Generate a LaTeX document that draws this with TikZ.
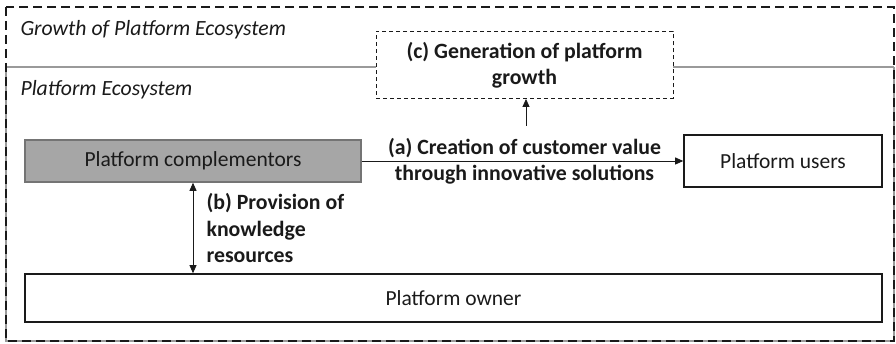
\documentclass[tikz,border=0pt]{standalone}
\usepackage{fontspec}
\setmainfont{Carlito}
\usetikzlibrary{arrows.meta}
\definecolor{ink}{HTML}{1A1A1A}
\definecolor{frame}{HTML}{9A9A9A}
\definecolor{fillgray}{HTML}{A6A6A6}
\begin{document}
\begin{tikzpicture}[x=1pt,y=-1pt,
  txt/.style={font=\fontsize{21.5}{25.5}\selectfont, text=ink},
  blabel/.style={font=\bfseries\fontsize{21.8}{26}\selectfont, text=ink, align=center},
  actor/.style={draw=ink, line width=1.6pt, inner sep=0pt, txt},
  flow/.style={draw=ink, line width=0.8pt, -{Triangle[length=8pt,width=7pt]}},
  heading/.style={font=\itshape\fontsize{21.7}{25}\selectfont, text=ink, anchor=west}
]
\useasboundingbox (0,0) rectangle (896,344);

% inner ecosystem frame (solid grey)
\coordinate (eNW) at (6,67);
\coordinate (eNE) at (894,67);
\coordinate (eSW) at (6,341);
\coordinate (eSE) at (894,341);

% growth box
\node[draw=ink, dashed, dash pattern=on 4pt off 3pt, line width=0.9pt,
      minimum width=297pt, minimum height=67pt, inner sep=0pt, blabel]
      (growth) at (524.5,65) {(c) Generation of platform\\growth};

\draw[frame, line width=1.4pt] (eNW) -- (growth.west |- eNW);
\draw[frame, line width=1.4pt] (growth.east |- eNE) -- (eNE);
\draw[frame, line width=1.2pt] (eNW) -- (eSW) -- (eSE) -- (eNE);

% outer dashed frame
\draw[ink, line width=1.6pt, dash pattern=on 9pt off 5pt] (6,7) rectangle (894,341);

% headings
\node[heading] (hgrowth) at (17,30) {Growth of Platform Ecosystem};
\node[heading] (heco) at (17,90) {Platform Ecosystem};

% actors
\node[actor, fill=fillgray, draw=frame!70!ink, minimum width=336pt, minimum height=42pt]
      (comp) at (193,161) {Platform complementors};
\node[actor, minimum width=198pt, minimum height=52pt]
      (users) at (783,161) {Platform users};
\node[actor, minimum width=857pt, minimum height=48pt]
      (owner) at (453.5,298) {Platform owner};

% (a) value creation
\draw[flow] (comp.east) -- (users.west);
\node[blabel] (alabel) at (524.5,161) {(a) Creation of customer value\\through innovative solutions};

% (c) growth arrow
\coordinate (cfoot) at (526,126);
\draw[flow] (cfoot) -- (cfoot |- growth.south);

% (b) knowledge resources
\draw[draw=ink, line width=0.8pt, {Triangle[length=8pt,width=7pt]}-{Triangle[length=8pt,width=7pt]}]
      (comp.south) -- (comp.south |- owner.north);
\node[blabel, align=left, anchor=north west, font=\bfseries\fontsize{21.8}{26.5}\selectfont]
      (blabel) at (203,190) {(b) Provision of\\knowledge\\resources};
\end{tikzpicture}
\end{document}
